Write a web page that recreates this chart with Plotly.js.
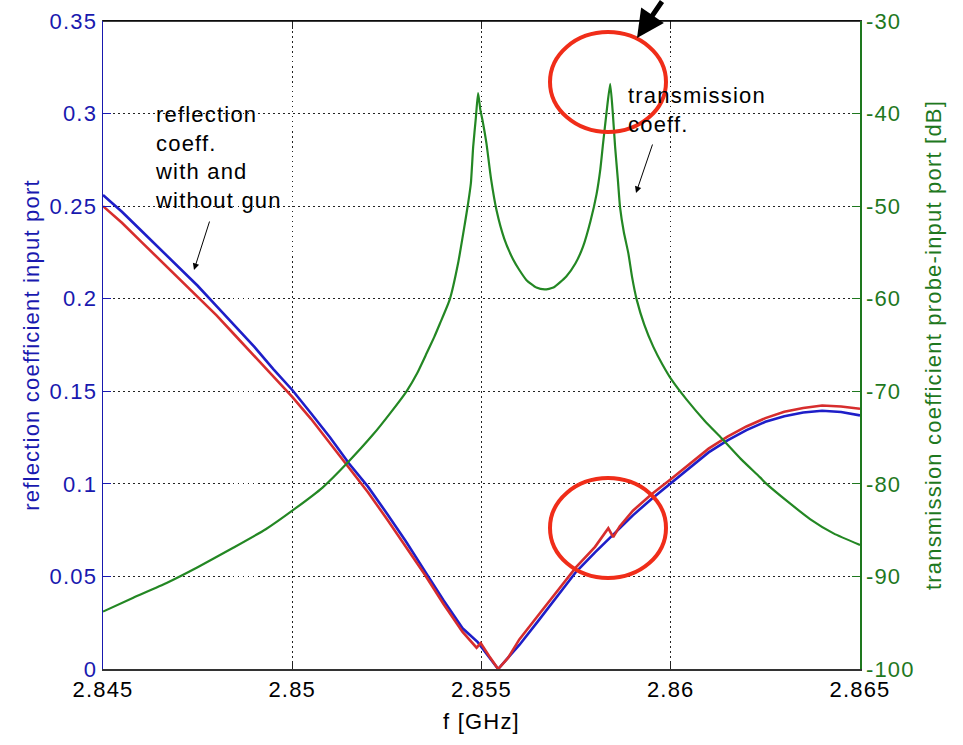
<!DOCTYPE html>
<html>
<head>
<meta charset="utf-8">
<script src="https://cdn.plot.ly/plotly-3.0.1.min.js"></script>
<style>
  html, body { margin: 0; padding: 0; background: #ffffff; }
  #chart { width: 963px; height: 745px; }
  #chart text { letter-spacing: 1.2px; }
</style>
</head>
<body>
<div id="chart"></div>
<script>
// ---- data ----
const freqBlue = [2.845,2.8455,2.846,2.8465,2.847,2.8475,2.848,2.8485,2.849,2.8495,2.85,2.8505,2.851,2.8515,2.852,2.8525,2.853,2.8535,2.854,2.8545,2.8549,2.85544,2.856,2.8565,2.857,2.8575,2.858,2.8585,2.859,2.8595,2.86,2.8605,2.861,2.8615,2.862,2.8625,2.863,2.8635,2.864,2.8645,2.865];
const reflBlue = [0.256,0.247,0.237,0.227,0.217,0.207,0.196,0.185,0.174,0.162,0.1507,0.138,0.125,0.111,0.0985,0.084,0.069,0.053,0.037,0.022,0.0145,0.0,0.013,0.026,0.039,0.0525,0.063,0.073,0.0830,0.092,0.1005,0.109,0.117,0.1235,0.129,0.1335,0.1365,0.1385,0.1395,0.1388,0.137];

const freqRed = [2.845,2.8455,2.846,2.8465,2.847,2.8475,2.848,2.8485,2.849,2.8495,2.85,2.8505,2.851,2.8515,2.852,2.8525,2.853,2.8535,2.854,2.8545,2.85487,2.85498,2.8552,2.85544,2.8557,2.856,2.8565,2.857,2.8575,2.858,2.85835,2.85848,2.85865,2.859,2.8595,2.86,2.8605,2.861,2.8615,2.862,2.8625,2.863,2.8635,2.864,2.8645,2.865];
const reflRed = [0.250,0.241,0.231,0.221,0.2115,0.201,0.191,0.180,0.169,0.158,0.147,0.135,0.122,0.109,0.0955,0.081,0.066,0.051,0.035,0.020,0.0115,0.014,0.007,0.0,0.006,0.016,0.029,0.042,0.055,0.066,0.076,0.0712,0.077,0.0855,0.0945,0.1025,0.111,0.119,0.1255,0.131,0.1355,0.139,0.141,0.1423,0.1418,0.1406];

const freqGreen = [2.845,2.8458,2.84668,2.8475,2.84844,2.8493,2.8501,2.8508,2.85144,2.85214,2.8526,2.85302,2.8533,2.85355,2.85375,2.8539,2.85416,2.85438,2.85456,2.85465,2.85472,2.85478,2.85485,2.85491,2.85497,2.85503,2.85513,2.85525,2.8554,2.8556,2.85584,2.856,2.85619,2.85645,2.85667,2.8569,2.85724,2.85748,2.85768,2.85788,2.85804,2.85814,2.85821,2.8583,2.8584,2.85847,2.85853,2.8586,2.85866,2.85876,2.85888,2.85898,2.8591,2.8593,2.85954,2.85978,2.86003,2.86042,2.8609,2.86135,2.86185,2.86236,2.86253,2.8631,2.86368,2.8643,2.865];
const transGreen = [-93.8,-92.3,-90.7,-89.0,-86.9,-84.9,-82.6,-80.4,-77.8,-74.65,-72.3,-70.0,-68.05,-65.9,-64.15,-62.7,-60.1,-56.2,-51.9,-49.6,-47.5,-43.6,-40.5,-37.8,-39.6,-40.8,-43.2,-47.0,-50.5,-53.5,-55.8,-56.9,-58.0,-58.8,-59.0,-58.8,-57.6,-56.2,-54.4,-51.6,-48.7,-46.0,-43.3,-40.0,-36.8,-40.0,-43.6,-47.0,-50.1,-52.8,-55.1,-57.7,-60.1,-62.8,-65.2,-67.1,-68.8,-70.9,-73.2,-75.1,-77.3,-79.3,-80.0,-81.95,-83.8,-85.35,-86.6];

const xTicks = [2.845, 2.85, 2.855, 2.86, 2.865];
const xTickText = ['2.845', '2.85', '2.855', '2.86', '2.865'];
const yLeftTicks = [0, 0.05, 0.1, 0.15, 0.2, 0.25, 0.3, 0.35];
const yLeftText = ['0', '0.05', '0.1', '0.15', '0.2', '0.25', '0.3', '0.35'];
const yRightTicks = [-100, -90, -80, -70, -60, -50, -40, -30];
const yRightText = ['-100', '-90', '-80', '-70', '-60', '-50', '-40', '-30'];

// ---- styling ----
const BLUE_TXT = 'rgb(25,25,175)';
const GREEN_TXT = 'rgb(30,120,30)';
const FONT = 'Liberation Sans, Arial, sans-serif';

const L = 103, R = 860, T = 21, B = 669, W = 963, H = 745;
const px = v => (v - L) / (R - L);
const py = v => (B - v) / (B - T);

const traces = [
  { x: freqGreen, y: transGreen, yaxis: 'y2', mode: 'lines', name: 'transmission',
    line: { color: 'rgb(35,135,35)', width: 2.2, shape: 'spline', smoothing: 0.5 }, hoverinfo: 'skip' },
  { x: freqBlue, y: reflBlue, mode: 'lines', name: 'reflection (blue)',
    line: { color: 'rgb(30,30,200)', width: 2.6 }, hoverinfo: 'skip' },
  { x: freqRed, y: reflRed, mode: 'lines', name: 'reflection (red)',
    line: { color: 'rgb(215,45,45)', width: 2.6 }, hoverinfo: 'skip' }
];

const GRID_DASH = '1.5px,3.5px';

const layout = {
  width: W, height: H,
  margin: { l: L, r: W - R, t: T, b: H - B },
  paper_bgcolor: '#ffffff', plot_bgcolor: '#ffffff',
  showlegend: false,
  font: { family: FONT, size: 22, color: '#000' },
  xaxis: {
    range: [2.845, 2.865], tickvals: xTicks, ticktext: xTickText,
    ticks: 'inside', ticklen: 8, tickcolor: '#222', mirror: 'ticks',
    showline: true, linecolor: '#333', linewidth: 1.5,
    showgrid: true, gridcolor: '#222', griddash: GRID_DASH, gridwidth: 1.2,
    zeroline: false,
    tickfont: { family: FONT, size: 22, color: '#000' },
    title: { text: 'f [GHz]', font: { family: FONT, size: 22, color: '#000' }, standoff: 12 }
  },
  yaxis: {
    range: [0, 0.35], tickvals: yLeftTicks, ticktext: yLeftText,
    ticks: 'inside', ticklen: 8, tickcolor: BLUE_TXT,
    showline: true, linecolor: BLUE_TXT, linewidth: 1.5,
    showgrid: true, gridcolor: '#222', griddash: GRID_DASH, gridwidth: 1.2,
    zeroline: false,
    tickfont: { family: FONT, size: 22, color: BLUE_TXT },
    title: { text: 'reflection coefficient input port', font: { family: FONT, size: 22, color: BLUE_TXT }, standoff: 8 }
  },
  yaxis2: {
    range: [-100, -30], tickvals: yRightTicks, ticktext: yRightText,
    overlaying: 'y', side: 'right',
    ticks: 'inside', ticklen: 8, tickcolor: GREEN_TXT,
    showline: true, linecolor: GREEN_TXT, linewidth: 1.5,
    showgrid: false, zeroline: false,
    tickfont: { family: FONT, size: 22, color: GREEN_TXT },
    title: { text: 'transmission coefficient probe-input port [dB]', font: { family: FONT, size: 22, color: GREEN_TXT }, standoff: 16 }
  },
  shapes: [
    { type: 'line', xref: 'paper', yref: 'paper', x0: 0, x1: 1, y0: 1, y1: 1,
      line: { color: '#000', width: 1.5 } },
    { type: 'circle', xref: 'paper', yref: 'paper',
      x0: px(550), x1: px(666), y0: py(132), y1: py(32),
      line: { color: 'rgb(240,45,25)', width: 4 } },
    { type: 'circle', xref: 'paper', yref: 'paper',
      x0: px(550), x1: px(666), y0: py(578), y1: py(478),
      line: { color: 'rgb(240,45,25)', width: 4 } }
  ],
  annotations: [
    { xref: 'paper', yref: 'paper', x: px(153), y: py(100), xanchor: 'left', yanchor: 'top',
      align: 'left', showarrow: false,
      text: 'reflection<br>coeff.<br>with and<br>without gun',
      font: { family: FONT, size: 22, color: '#000' } },
    { xref: 'paper', yref: 'paper', x: px(626), y: py(81), xanchor: 'left', yanchor: 'top',
      align: 'left', showarrow: false,
      text: 'transmission<br>coeff.',
      font: { family: FONT, size: 22, color: '#000' } },
    { xref: 'paper', yref: 'paper', x: px(194), y: py(270), text: '', showarrow: true,
      ax: 16, ay: -50, arrowhead: 2, arrowsize: 1.3, arrowwidth: 1, arrowcolor: '#000' },
    { xref: 'paper', yref: 'paper', x: px(636), y: py(193), text: '', showarrow: true,
      ax: 17, ay: -50, arrowhead: 2, arrowsize: 1.3, arrowwidth: 1, arrowcolor: '#000' },
    { xref: 'paper', yref: 'paper', x: px(637), y: py(38), text: '', showarrow: true,
      ax: 26, ay: -46, arrowhead: 2, arrowsize: 1.1, arrowwidth: 5, arrowcolor: '#000' }
  ]
};

Plotly.newPlot('chart', traces, layout, { displayModeBar: false, staticPlot: true });
</script>
</body>
</html>
